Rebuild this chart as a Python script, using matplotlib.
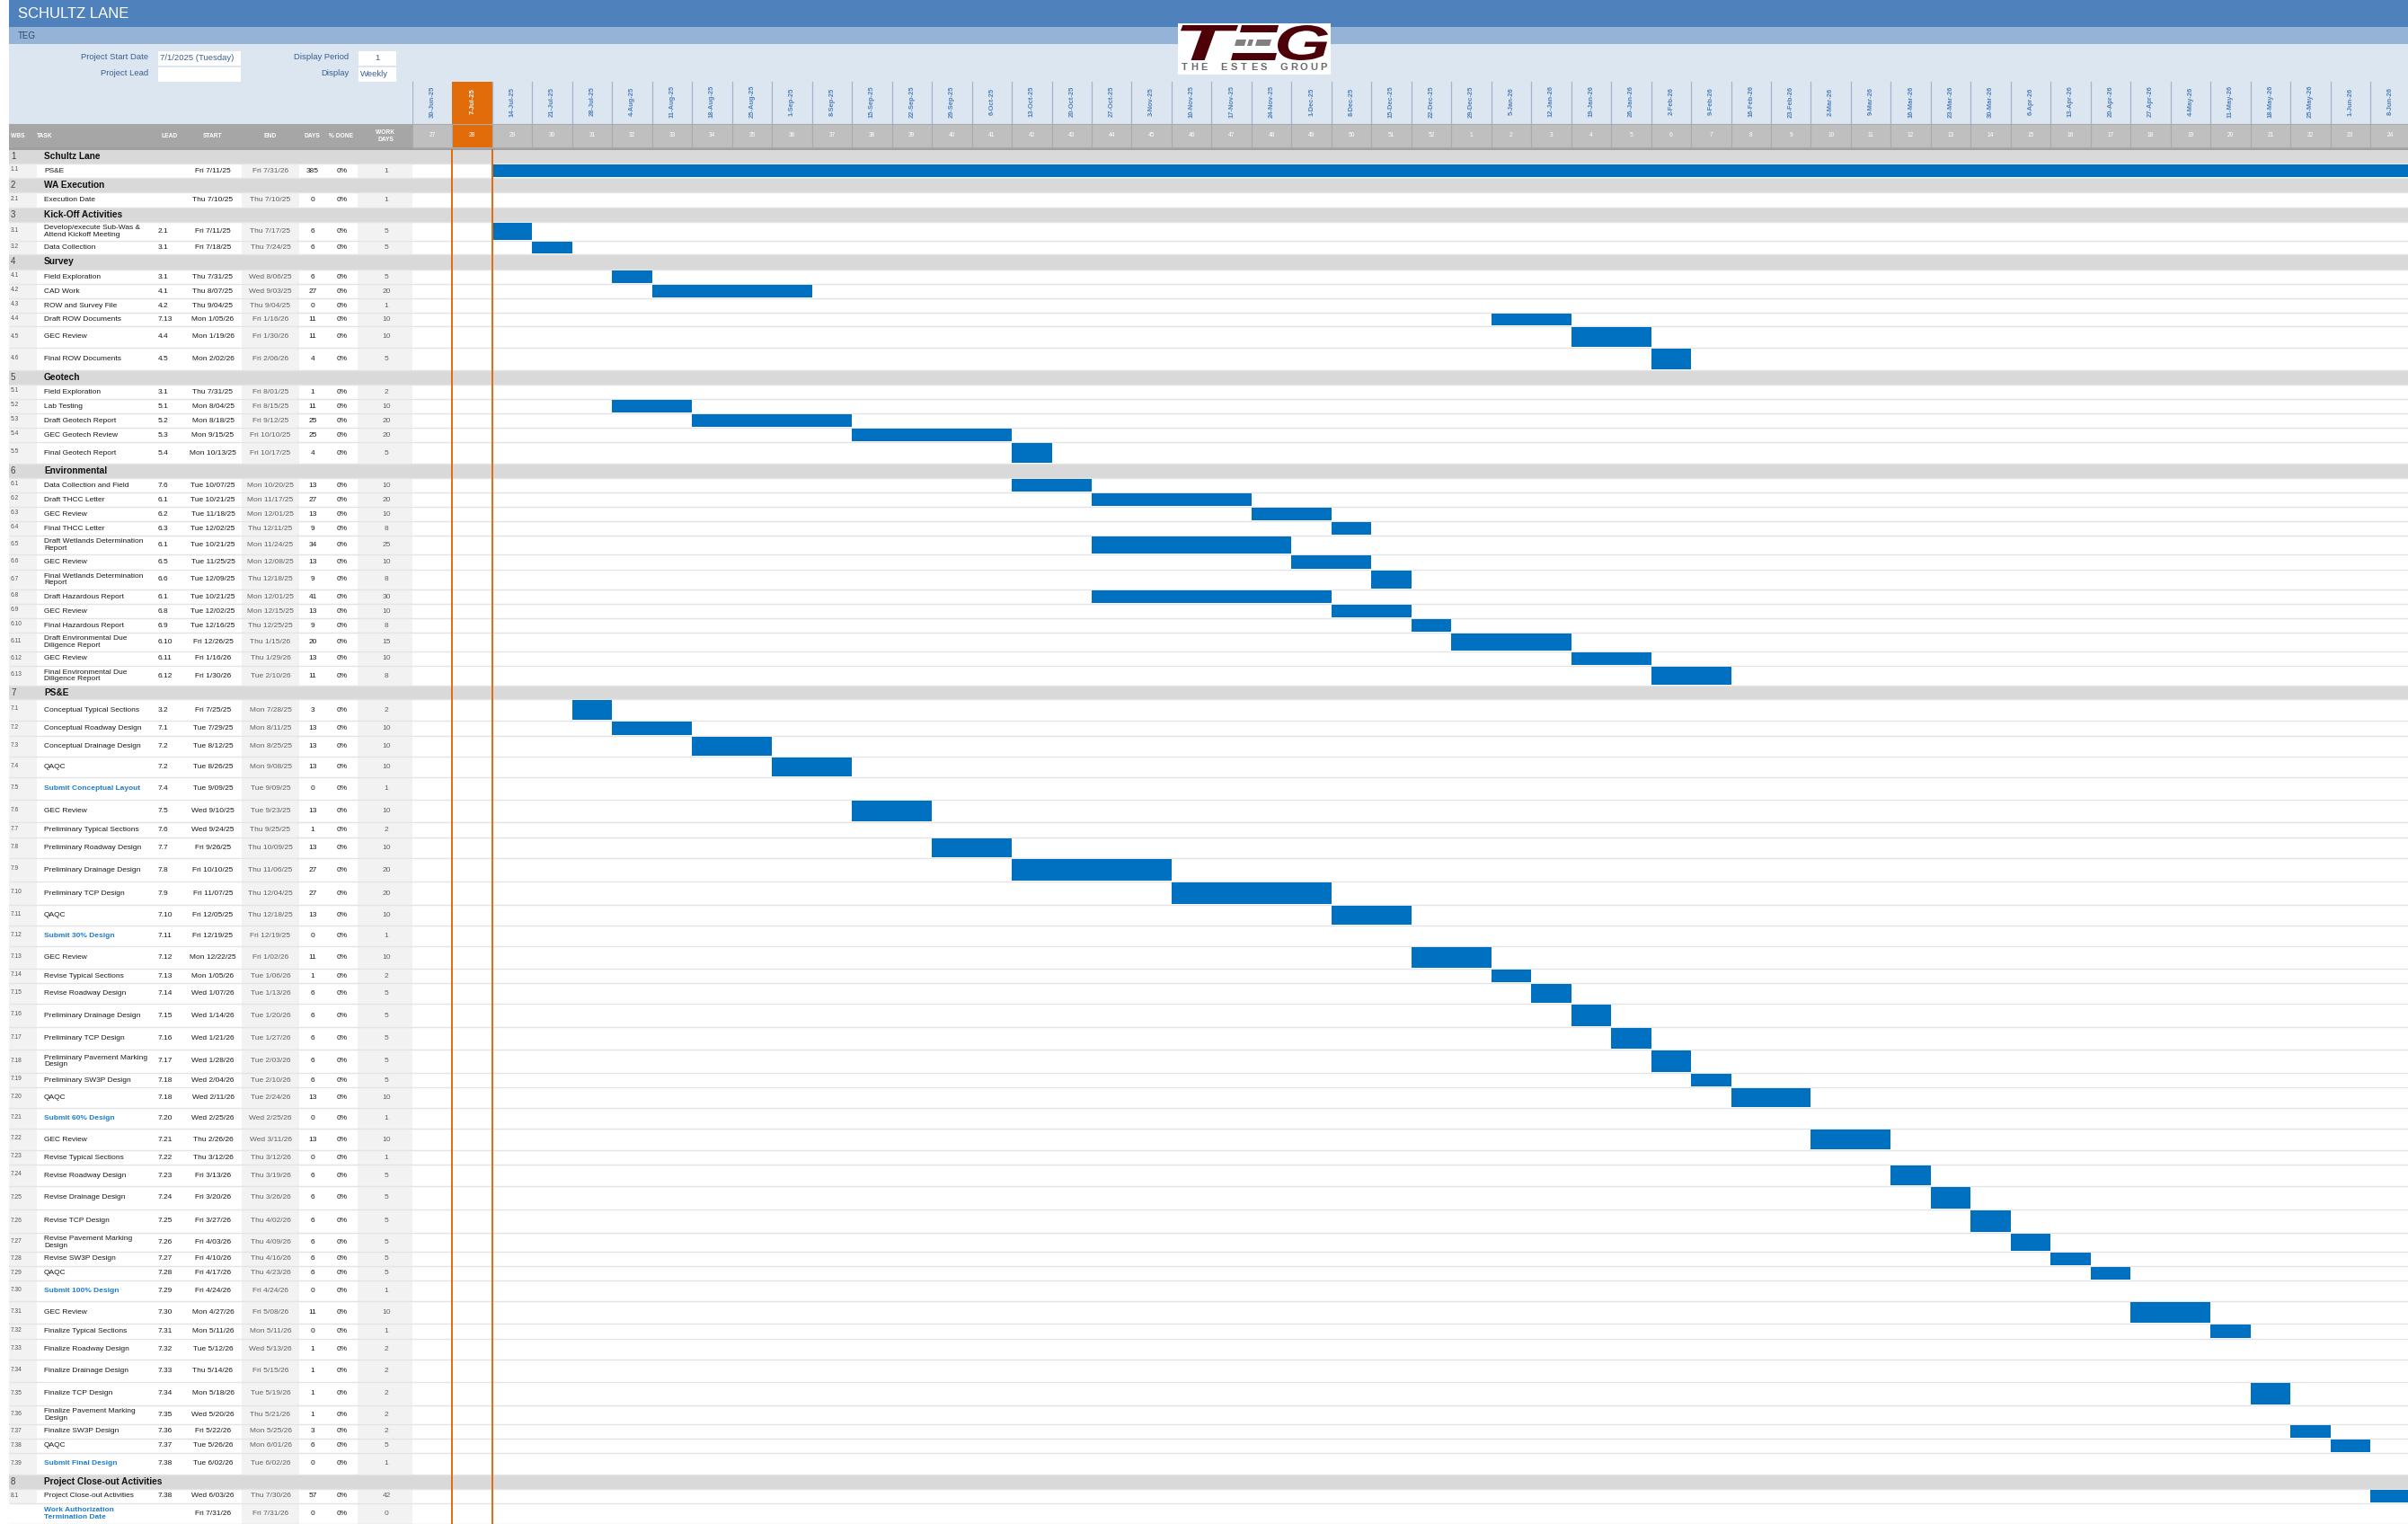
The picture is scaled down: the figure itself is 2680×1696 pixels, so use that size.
import matplotlib
matplotlib.use('Agg')
import matplotlib.pyplot as plt
import matplotlib.dates as mdates
from matplotlib.patches import Rectangle, Polygon, PathPatch
from matplotlib.textpath import TextPath
from matplotlib.font_manager import FontProperties
from matplotlib.transforms import Affine2D
import pandas as pd
import numpy as np

plt.rcParams['font.family'] = ['Liberation Sans', 'DejaVu Sans']

# ---------------- data ----------------
project_title = "SCHULTZ LANE"
company = "TEG"
project_start_label = "7/1/2025 (Tuesday)"
project_lead = ""
display_period = "1"
display_mode = "Weekly"
timeline_start = "2025-06-30"
current_week = "2025-07-07"
n_weeks = 51

header_cols = ["WBS", "TASK", "LEAD", "START", "END", "DAYS", "% DONE", "WORK\nDAYS"]

row_kind = (["section", "task", "section", "task", "section", "task", "task",
             "section"] + ["task"] * 6 + ["section"] + ["task"] * 5 + ["section"] + ["task"] * 13 +
            ["section"] + ["task"] * 4 + ["milestone"] + ["task"] * 6 + ["milestone"] + ["task"] * 8 +
            ["milestone"] + ["task"] * 8 + ["milestone"] + ["task"] * 8 + ["milestone"] +
            ["section", "task", "milestone"])

wbs = ["1", "1.1", "2", "2.1", "3", "3.1", "3.2",
       "4", "4.1", "4.2", "4.3", "4.4", "4.5", "4.6",
       "5", "5.1", "5.2", "5.3", "5.4", "5.5",
       "6", "6.1", "6.2", "6.3", "6.4", "6.5", "6.6", "6.7", "6.8", "6.9", "6.10", "6.11", "6.12", "6.13",
       "7", "7.1", "7.2", "7.3", "7.4", "7.5", "7.6", "7.7", "7.8", "7.9", "7.10", "7.11", "7.12", "7.13",
       "7.14", "7.15", "7.16", "7.17", "7.18", "7.19", "7.20", "7.21", "7.22", "7.23", "7.24", "7.25",
       "7.26", "7.27", "7.28", "7.29", "7.30", "7.31", "7.32", "7.33", "7.34", "7.35", "7.36", "7.37",
       "7.38", "7.39",
       "8", "8.1", ""]

tasks = ["Schultz Lane", "PS&E", "WA Execution", "Execution Date", "Kick-Off Activities",
         "Develop/execute Sub-Was &\nAttend Kickoff Meeting", "Data Collection",
         "Survey", "Field Exploration", "CAD Work", "ROW and Survey File", "Draft ROW Documents",
         "GEC Review", "Final ROW Documents",
         "Geotech", "Field Exploration", "Lab Testing", "Draft Geotech Report", "GEC Geotech Review",
         "Final Geotech Report",
         "Environmental", "Data Collection and Field", "Draft THCC Letter", "GEC Review", "Final THCC Letter",
         "Draft Wetlands Determination\nReport", "GEC Review", "Final Wetlands Determination\nReport",
         "Draft Hazardous Report", "GEC Review", "Final Hazardous Report",
         "Draft Environmental Due\nDiligence Report", "GEC Review", "Final Environmental Due\nDiligence Report",
         "PS&E", "Conceptual Typical Sections", "Conceptual Roadway Design", "Conceptual Drainage Design",
         "QAQC", "Submit Conceptual Layout", "GEC Review", "Preliminary Typical Sections",
         "Preliminary Roadway Design", "Preliminary Drainage Design", "Preliminary TCP Design", "QAQC",
         "Submit 30% Design", "GEC Review", "Revise Typical Sections", "Revise Roadway Design",
         "Preliminary Drainage Design", "Preliminary TCP Design", "Preliminary Pavement Marking\nDesign",
         "Preliminary SW3P Design", "QAQC", "Submit 60% Design", "GEC Review", "Revise Typical Sections",
         "Revise Roadway Design", "Revise Drainage Design", "Revise TCP Design",
         "Revise Pavement Marking\nDesign", "Revise SW3P Design", "QAQC", "Submit 100% Design",
         "GEC Review", "Finalize Typical Sections", "Finalize Roadway Design", "Finalize Drainage Design",
         "Finalize TCP Design", "Finalize Pavement Marking\nDesign", "Finalize SW3P Design", "QAQC",
         "Submit Final Design",
         "Project Close-out Activities", "Project Close-out Activities",
         "Work Authorization\nTermination Date"]

leads = ["", "", "", "", "", "2.1", "3.1",
         "", "3.1", "4.1", "4.2", "7.13", "4.4", "4.5",
         "", "3.1", "5.1", "5.2", "5.3", "5.4",
         "", "7.6", "6.1", "6.2", "6.3", "6.1", "6.5", "6.6", "6.1", "6.8", "6.9", "6.10", "6.11", "6.12",
         "", "3.2", "7.1", "7.2", "7.2", "7.4", "7.5", "7.6", "7.7", "7.8", "7.9", "7.10", "7.11", "7.12",
         "7.13", "7.14", "7.15", "7.16", "7.17", "7.18", "7.18", "7.20", "7.21", "7.22", "7.23", "7.24",
         "7.25", "7.26", "7.27", "7.28", "7.29", "7.30", "7.31", "7.32", "7.33", "7.34", "7.35", "7.36",
         "7.37", "7.38",
         "", "7.38", ""]

starts = ["", "Fri 7/11/25", "", "Thu 7/10/25", "", "Fri 7/11/25", "Fri 7/18/25",
          "", "Thu 7/31/25", "Thu 8/07/25", "Thu 9/04/25", "Mon 1/05/26", "Mon 1/19/26", "Mon 2/02/26",
          "", "Thu 7/31/25", "Mon 8/04/25", "Mon 8/18/25", "Mon 9/15/25", "Mon 10/13/25",
          "", "Tue 10/07/25", "Tue 10/21/25", "Tue 11/18/25", "Tue 12/02/25", "Tue 10/21/25",
          "Tue 11/25/25", "Tue 12/09/25", "Tue 10/21/25", "Tue 12/02/25", "Tue 12/16/25", "Fri 12/26/25",
          "Fri 1/16/26", "Fri 1/30/26",
          "", "Fri 7/25/25", "Tue 7/29/25", "Tue 8/12/25", "Tue 8/26/25", "Tue 9/09/25", "Wed 9/10/25",
          "Wed 9/24/25", "Fri 9/26/25", "Fri 10/10/25", "Fri 11/07/25", "Fri 12/05/25", "Fri 12/19/25",
          "Mon 12/22/25", "Mon 1/05/26", "Wed 1/07/26", "Wed 1/14/26", "Wed 1/21/26", "Wed 1/28/26",
          "Wed 2/04/26", "Wed 2/11/26", "Wed 2/25/26", "Thu 2/26/26", "Thu 3/12/26", "Fri 3/13/26",
          "Fri 3/20/26", "Fri 3/27/26", "Fri 4/03/26", "Fri 4/10/26", "Fri 4/17/26", "Fri 4/24/26",
          "Mon 4/27/26", "Mon 5/11/26", "Tue 5/12/26", "Thu 5/14/26", "Mon 5/18/26", "Wed 5/20/26",
          "Fri 5/22/26", "Tue 5/26/26", "Tue 6/02/26",
          "", "Wed 6/03/26", "Fri 7/31/26"]

ends = ["", "Fri 7/31/26", "", "Thu 7/10/25", "", "Thu 7/17/25", "Thu 7/24/25",
        "", "Wed 8/06/25", "Wed 9/03/25", "Thu 9/04/25", "Fri 1/16/26", "Fri 1/30/26", "Fri 2/06/26",
        "", "Fri 8/01/25", "Fri 8/15/25", "Fri 9/12/25", "Fri 10/10/25", "Fri 10/17/25",
        "", "Mon 10/20/25", "Mon 11/17/25", "Mon 12/01/25", "Thu 12/11/25", "Mon 11/24/25",
        "Mon 12/08/25", "Thu 12/18/25", "Mon 12/01/25", "Mon 12/15/25", "Thu 12/25/25", "Thu 1/15/26",
        "Thu 1/29/26", "Tue 2/10/26",
        "", "Mon 7/28/25", "Mon 8/11/25", "Mon 8/25/25", "Mon 9/08/25", "Tue 9/09/25", "Tue 9/23/25",
        "Thu 9/25/25", "Thu 10/09/25", "Thu 11/06/25", "Thu 12/04/25", "Thu 12/18/25", "Fri 12/19/25",
        "Fri 1/02/26", "Tue 1/06/26", "Tue 1/13/26", "Tue 1/20/26", "Tue 1/27/26", "Tue 2/03/26",
        "Tue 2/10/26", "Tue 2/24/26", "Wed 2/25/26", "Wed 3/11/26", "Thu 3/12/26", "Thu 3/19/26",
        "Thu 3/26/26", "Thu 4/02/26", "Thu 4/09/26", "Thu 4/16/26", "Thu 4/23/26", "Fri 4/24/26",
        "Fri 5/08/26", "Mon 5/11/26", "Wed 5/13/26", "Fri 5/15/26", "Tue 5/19/26", "Thu 5/21/26",
        "Mon 5/25/26", "Mon 6/01/26", "Tue 6/02/26",
        "", "Thu 7/30/26", "Fri 7/31/26"]

days = ["", "385", "", "0", "", "6", "6",
        "", "6", "27", "0", "11", "11", "4",
        "", "1", "11", "25", "25", "4",
        "", "13", "27", "13", "9", "34", "13", "9", "41", "13", "9", "20", "13", "11",
        "", "3", "13", "13", "13", "0", "13", "1", "13", "27", "27", "13", "0", "11",
        "1", "6", "6", "6", "6", "6", "13", "0", "13", "0", "6", "6",
        "6", "6", "6", "6", "0", "11", "0", "1", "1", "1", "1", "3", "6", "0",
        "", "57", "0"]

pct_done = ["" if k == "section" else "0%" for k in row_kind]

work_days = ["", "1", "", "1", "", "5", "5",
             "", "5", "20", "1", "10", "10", "5",
             "", "2", "10", "20", "20", "5",
             "", "10", "20", "10", "8", "25", "10", "8", "30", "10", "8", "15", "10", "8",
             "", "2", "10", "10", "10", "1", "10", "2", "10", "20", "20", "10", "1", "10",
             "2", "5", "5", "5", "5", "5", "10", "1", "10", "1", "5", "5",
             "5", "5", "5", "5", "1", "10", "1", "2", "2", "2", "2", "2", "5", "1",
             "", "42", "0"]

# ---------------- layout (pixels) ----------------
W, H = 2680, 1696
ROW_H = [16, 16, 16, 17, 16, 21, 15, 17,
         16, 16, 16, 15, 24, 25,
         16, 16, 16, 16, 16, 24,
         16, 16, 16, 16, 16, 21, 17, 22, 16, 16, 16, 21, 16, 22,
         15, 24, 17, 23, 23, 25, 25, 17, 23, 26,
         26, 23, 23, 25, 16,
         23, 26, 25, 26, 16,
         23, 23, 24, 16, 24,
         26, 26, 21, 16, 16,
         23, 25, 17, 23, 25,
         26, 21, 16, 16, 24,
         16, 16, 23]
TABLE_TOP = 166
LEFT = 10
CHART_X0 = 459
COL_W = 44.47

C_TITLE = '#4F81BD'
C_SUB = '#95B3D7'
C_INFO = '#DCE6F1'
C_INFO_TXT = '#3A5F8F'
C_HEAD = '#A6A6A6'
C_WEEK = '#BFBFBF'
C_SECTION = '#D9D9D9'
C_COLBG = '#F2F2F2'
C_ORANGE = '#E26B0A'
C_BAR = '#0070C0'
C_MILE = '#1E7BCB'
C_GRID = '#E4E4E4'

fig = plt.figure(figsize=(W / 100, H / 100), dpi=100)
ax = fig.add_axes([0, 0, 1, 1])
ax.set_xlim(0, W)
ax.set_ylim(H, 0)
ax.axis('off')

# top bars
ax.add_patch(Rectangle((LEFT, 0), W - LEFT, 30, color=C_TITLE, lw=0, zorder=1))
ax.add_patch(Rectangle((LEFT, 30), W - LEFT, 19, color=C_SUB, lw=0, zorder=1))
ax.add_patch(Rectangle((LEFT, 49), W - LEFT, 89, color=C_INFO, lw=0, zorder=1))
ax.text(20, 15.5, project_title, color='white', fontsize=12, va='center', ha='left', zorder=5)
ax.text(20, 40, company, color='#2C4A6E', fontsize=7, va='center', ha='left', zorder=5)

# info boxes
ax.text(165, 64, "Project Start Date", color=C_INFO_TXT, fontsize=6.8, ha='right', va='center', zorder=5)
ax.text(165, 82, "Project Lead", color=C_INFO_TXT, fontsize=6.8, ha='right', va='center', zorder=5)
ax.add_patch(Rectangle((176, 57), 92, 16, color='white', lw=0, zorder=2))
ax.add_patch(Rectangle((176, 74.5), 92, 16, color='white', lw=0, zorder=2))
ax.text(178, 64.5, project_start_label, color=C_INFO_TXT, fontsize=6.8, ha='left', va='center', zorder=5)
ax.text(178, 82.5, project_lead, color=C_INFO_TXT, fontsize=6.8, ha='left', va='center', zorder=5)
ax.text(388, 64, "Display Period", color=C_INFO_TXT, fontsize=6.8, ha='right', va='center', zorder=5)
ax.text(388, 82, "Display", color=C_INFO_TXT, fontsize=6.8, ha='right', va='center', zorder=5)
ax.add_patch(Rectangle((399, 57), 42, 16, color='white', lw=0, zorder=2))
ax.add_patch(Rectangle((399, 74.5), 42, 16, color='white', lw=0, zorder=2))
ax.text(420, 64.5, display_period, color=C_INFO_TXT, fontsize=6.8, ha='center', va='center', zorder=5)
ax.text(401, 82.5, display_mode, color=C_INFO_TXT, fontsize=6.8, ha='left', va='center', zorder=5)

# header row of table
ax.add_patch(Rectangle((LEFT, 138), CHART_X0 - LEFT, 28, color=C_HEAD, lw=0, zorder=1))
ax.add_patch(Rectangle((LEFT, 163.5), W - LEFT, 3, color='#A0A0A0', lw=0, zorder=3))
hx = [12, 41, 189, 237, 301, 347, 380, 429]
hal = ['left', 'left', 'center', 'center', 'center', 'center', 'center', 'center']
for lab, x, a in zip(header_cols, hx, hal):
    ax.text(x, 151.5, lab, color='white', fontsize=4.8, fontweight='bold', ha=a, va='center',
            linespacing=1.3, zorder=5)

# table rows
tops = TABLE_TOP + np.concatenate([[0], np.cumsum(ROW_H)[:-1]])
for i, kind in enumerate(row_kind):
    y0 = tops[i]
    h = ROW_H[i]
    yc = y0 + h / 2
    if kind == "section":
        ax.add_patch(Rectangle((LEFT, y0), W - LEFT, h, color=C_SECTION, lw=0, zorder=1))
        ax.text(12, yc, wbs[i], color='#404040', fontsize=7, ha='left', va='center', zorder=5)
        ax.text(49, yc, tasks[i], color='#111111', fontsize=7.3, fontweight='bold', ha='left',
                va='center', zorder=5)
    else:
        if wbs[i]:
            ax.add_patch(Rectangle((LEFT, y0), 31, h, color=C_COLBG, lw=0, zorder=1))
        ax.add_patch(Rectangle((269, y0), 64, h, color=C_COLBG, lw=0, zorder=1))
        ax.add_patch(Rectangle((398, y0), 61, h, color=C_COLBG, lw=0, zorder=1))
        ax.text(12, yc - 1, wbs[i], color='#555555', fontsize=4.8, ha='left', va='center', zorder=5)
        if kind == "milestone":
            ax.text(49, yc, tasks[i], color=C_MILE, fontsize=6, fontweight='bold', ha='left',
                    va='center', linespacing=1.05, zorder=5)
        else:
            ax.text(49, yc, tasks[i], color='#1A1A1A', fontsize=6, ha='left', va='center',
                    linespacing=1.05, zorder=5)
        ax.text(176, yc, leads[i], color='#1A1A1A', fontsize=6, ha='left', va='center', zorder=5)
        ax.text(237, yc, starts[i], color='#1A1A1A', fontsize=6, ha='center', va='center', zorder=5)
        ax.text(301, yc, ends[i], color='#606060', fontsize=6, ha='center', va='center', zorder=5)
        ax.text(348, yc, days[i], color='#1A1A1A', fontsize=6, ha='center', va='center', zorder=5)
        ax.text(381, yc, pct_done[i], color='#1A1A1A', fontsize=6, ha='center', va='center', zorder=5)
        ax.text(430, yc, work_days[i], color='#606060', fontsize=6, ha='center', va='center', zorder=5)
    # separator
    ax.plot([LEFT, W], [y0 + h, y0 + h], color=C_GRID, lw=1.0, zorder=2, solid_capstyle='butt')

# ---------------- gantt axes (dates) ----------------
t0 = pd.Timestamp(timeline_start)
weeks = pd.date_range(t0, periods=n_weeks, freq='7D')
x0n = mdates.date2num(t0)
x1n = x0n + (W - CHART_X0) / COL_W * 7

axg = fig.add_axes([CHART_X0 / W, 0, (W - CHART_X0) / W, 1])
axg.set_xlim(x0n, x1n)
axg.set_ylim(H, 0)
axg.axis('off')
axg.patch.set_visible(False)

cw = mdates.date2num(pd.Timestamp(current_week))
for d in weeks:
    dn = mdates.date2num(d)
    is_cur = abs(dn - cw) < 0.5
    # week number cell
    axg.add_patch(Rectangle((dn, 138), 7, 25.5, facecolor=C_ORANGE if is_cur else C_WEEK,
                            edgecolor='#ABABAB', lw=0.8, zorder=2))
    if is_cur:
        axg.add_patch(Rectangle((dn, 91), 7, 47, facecolor=C_ORANGE, lw=0, zorder=2))
    else:
        axg.plot([dn, dn], [91, 138], color='#A3B3C9', lw=0.9, zorder=2)
    axg.text(dn + 3.5, 151, str(d.isocalendar().week), color='white', fontsize=4.8,
             ha='center', va='center', zorder=5)
    lab = f"{d.day}-{d.strftime('%b-%y')}"
    axg.text(dn + 3.5, 113, lab, color='white' if is_cur else '#4F81BD', fontsize=5.4,
             fontweight='bold', rotation=90, ha='center', va='center', zorder=5)

# current-week marker lines
axg.vlines([cw, cw + 7], TABLE_TOP, H, color=C_ORANGE, lw=1.4, zorder=6)

# bars: a week cell is filled when its Monday falls inside [start, end]
week_nums = mdates.date2num(weeks)
for i, kind in enumerate(row_kind):
    if kind == "section" or not starts[i]:
        continue
    s = pd.to_datetime(starts[i].split()[1], format='%m/%d/%y')
    e = pd.to_datetime(ends[i].split()[1], format='%m/%d/%y')
    filled = [wn for d, wn in zip(weeks, week_nums) if s <= d <= e]
    if not filled:
        continue
    spans = []
    for wn in filled:
        if spans and abs(spans[-1][0] + spans[-1][1] - wn) < 0.5:
            spans[-1] = (spans[-1][0], spans[-1][1] + 7)
        else:
            spans.append((wn, 7))
    axg.broken_barh(spans, (tops[i] + 0.5, ROW_H[i] - 1.5), facecolors=C_BAR, lw=0, zorder=4)

# ---------------- logo ----------------
MAROON = '#4D0008'
ax.add_patch(Rectangle((1311, 26), 170, 57, color='white', lw=0, zorder=7))
fp = FontProperties(family='Liberation Sans', weight='bold', style='italic')


def glyph(ch, bx0, bx1, by0, by1, color):
    tp = TextPath((0, 0), ch, size=1, prop=fp)
    ext = tp.get_extents()
    sx = (bx1 - bx0) / ext.width
    sy = (by1 - by0) / ext.height
    tr = Affine2D().translate(-ext.x0, -ext.y0).scale(sx, -sy).translate(bx0, by1)
    ax.add_patch(PathPatch(tr.transform_path(tp), color=color, lw=0, zorder=8))


glyph("T", 1314, 1378, 28, 67, MAROON)
glyph("G", 1422, 1478, 28, 67, MAROON)
sk = 4
ax.add_patch(Polygon([(1378 + sk, 28), (1423, 28), (1421, 36), (1376 + sk, 36)], closed=True,
                     color=MAROON, lw=0, zorder=8))
for gx0, gx1 in [(1374, 1385), (1388, 1393), (1397, 1413)]:
    ax.add_patch(Polygon([(gx0 + 2, 44), (gx1 + 2, 44), (gx1, 51), (gx0, 51)], closed=True,
                         color='#808080', lw=0, zorder=8))
ax.add_patch(Polygon([(1372, 59), (1421, 59), (1419, 67), (1370, 67)], closed=True,
                     color=MAROON, lw=0, zorder=8))
logo_sub = "THE ESTES GROUP"
for k, ch in enumerate(logo_sub):
    ax.text(1318 + k * 11.1, 75.5, ch, color='#6B6B6B', fontsize=8, fontweight='bold',
            ha='center', va='center', zorder=9)

fig.savefig('out.png', dpi=100)
